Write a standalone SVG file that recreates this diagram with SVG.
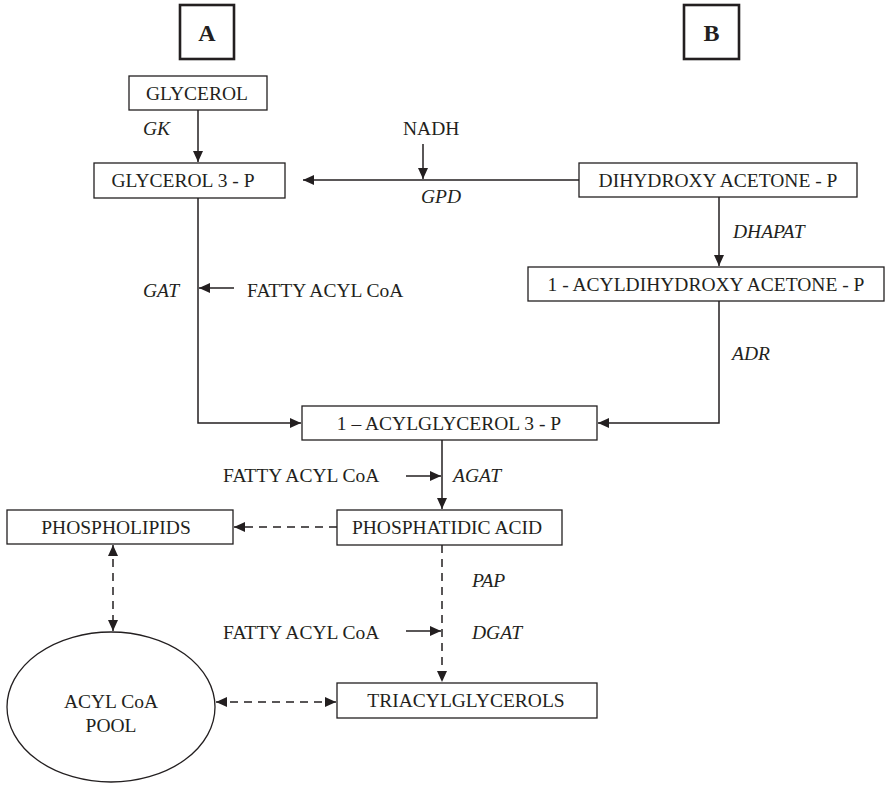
<svg xmlns="http://www.w3.org/2000/svg" width="889" height="787" viewBox="0 0 889 787">
<style>
  .box { fill: #fff; stroke: #231f20; stroke-width: 1.3; }
  .hdr { fill: #fff; stroke: #231f20; stroke-width: 2.6; }
  .t { font-family: "Liberation Serif", "Times New Roman", serif; font-size: 19.5px; fill: #231f20; }
  .c { text-anchor: middle; }
  .i { font-style: italic; }
  .b { font-weight: bold; font-size: 24px; }
  .ln { fill: none; stroke: #231f20; stroke-width: 1.5; }
  .dash { stroke-dasharray: 8 6; }
</style>
<defs>
  <marker id="ah" markerUnits="userSpaceOnUse" markerWidth="12" markerHeight="10" refX="11" refY="5" orient="auto-start-reverse">
    <path d="M0,0 L11,5 L0,10 z" fill="#231f20"/>
  </marker>
</defs>
<rect width="889" height="787" fill="#fff"/>

<g id="hdrA"><rect class="hdr" x="180" y="5" width="54" height="54"/><text class="t b c" x="207" y="41">A</text></g>
<g id="hdrB"><rect class="hdr" x="684" y="5" width="55" height="54"/><text class="t b c" x="711.5" y="41">B</text></g>

<g id="glycerol"><rect class="box" x="129" y="76" width="138" height="34"/><text class="t c" x="197" y="100">GLYCEROL</text></g>
<g id="g3p"><rect class="box" x="94" y="163" width="191" height="35"/><text class="t c" x="183" y="187">GLYCEROL 3 - P</text></g>
<g id="dhap"><rect class="box" x="579" y="163" width="278" height="34"/><text class="t c" x="718" y="187">DIHYDROXY ACETONE - P</text></g>
<g id="acyldhap"><rect class="box" x="528" y="267" width="356" height="34"/><text class="t c" x="706" y="291">1 - ACYLDIHYDROXY ACETONE - P</text></g>
<g id="acylg3p"><rect class="box" x="302" y="406" width="295" height="34"/><text class="t c" x="449" y="430">1 – ACYLGLYCEROL 3 - P</text></g>
<g id="pa"><rect class="box" x="337" y="510" width="225" height="35"/><text class="t c" x="447" y="534">PHOSPHATIDIC ACID</text></g>
<g id="pl"><rect class="box" x="7" y="510" width="226" height="34"/><text class="t c" x="116" y="534">PHOSPHOLIPIDS</text></g>
<g id="tag"><rect class="box" x="337" y="683" width="260" height="35"/><text class="t c" x="466" y="707">TRIACYLGLYCEROLS</text></g>
<g id="pool"><ellipse class="box" cx="111" cy="707" rx="104" ry="75"/><text class="t c" x="111" y="708">ACYL CoA</text><text class="t c" x="111" y="732">POOL</text></g>

<g id="labels">
  <text class="t i" x="143" y="135">GK</text>
  <text class="t" x="403" y="135">NADH</text>
  <text class="t i" x="421" y="203">GPD</text>
  <text class="t i" x="733" y="238">DHAPAT</text>
  <text class="t i" x="143" y="297">GAT</text>
  <text class="t" x="247" y="297">FATTY ACYL CoA</text>
  <text class="t i" x="732" y="360">ADR</text>
  <text class="t" x="223" y="482">FATTY ACYL CoA</text>
  <text class="t i" x="453" y="482">AGAT</text>
  <text class="t i" x="472" y="587">PAP</text>
  <text class="t" x="223" y="639">FATTY ACYL CoA</text>
  <text class="t i" x="472" y="639">DGAT</text>
</g>

<g id="connectors">
  <line class="ln" x1="198" y1="110" x2="198" y2="162" marker-end="url(#ah)"/>
  <line class="ln" x1="579" y1="180" x2="303" y2="180" marker-end="url(#ah)"/>
  <line class="ln" x1="423" y1="144" x2="423" y2="179" marker-end="url(#ah)"/>
  <line class="ln" x1="719" y1="197" x2="719" y2="266" marker-end="url(#ah)"/>
  <path class="ln" d="M198,198 V423 H301" marker-end="url(#ah)"/>
  <line class="ln" x1="234" y1="288" x2="199" y2="288" marker-end="url(#ah)"/>
  <path class="ln" d="M719,301 V423 H598" marker-end="url(#ah)"/>
  <line class="ln" x1="442" y1="440" x2="442" y2="509" marker-end="url(#ah)"/>
  <line class="ln" x1="406" y1="476" x2="441" y2="476" marker-end="url(#ah)"/>
  <line class="ln" x1="406" y1="631" x2="441" y2="631" marker-end="url(#ah)"/>
  <line class="ln dash" x1="337" y1="527" x2="234" y2="527" marker-end="url(#ah)"/>
  <line class="ln dash" x1="442" y1="545" x2="442" y2="682" marker-end="url(#ah)"/>
  <line class="ln dash" x1="113" y1="545" x2="113" y2="631" marker-start="url(#ah)" marker-end="url(#ah)"/>
  <line class="ln dash" x1="216" y1="702" x2="336" y2="702" marker-start="url(#ah)" marker-end="url(#ah)"/>
</g>
</svg>
